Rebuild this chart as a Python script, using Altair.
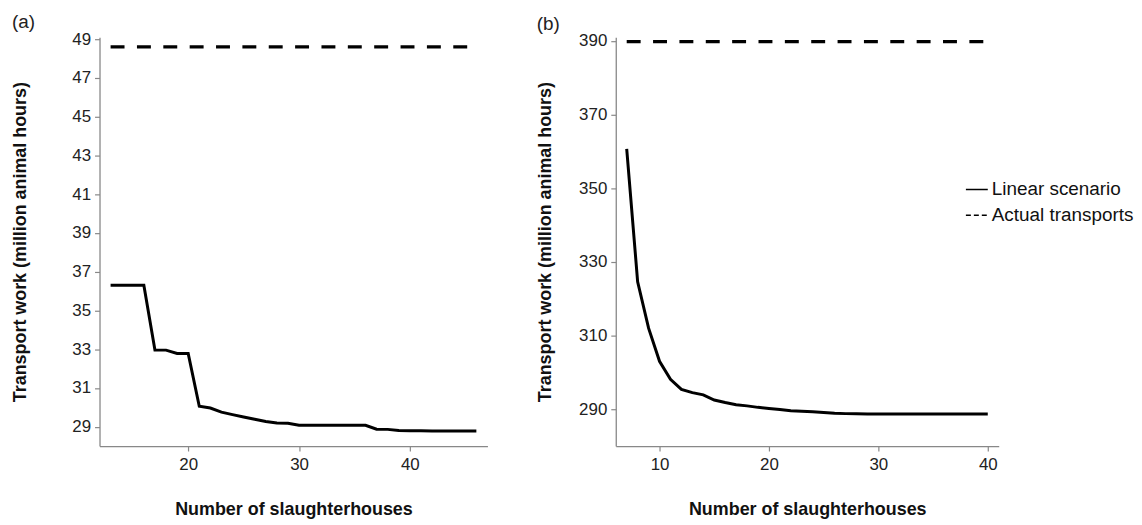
import altair as alt
import pandas as pd

# ---- data -------------------------------------------------------------
a_x = [13, 14, 15, 16, 17, 18, 19, 20, 21, 22, 23, 24, 25, 26, 27, 28, 29,
       30, 31, 32, 33, 34, 35, 36, 37, 38, 39, 40, 41, 42, 43, 44, 45, 46]
a_linear = [36.3, 36.3, 36.3, 36.3, 32.95, 32.95, 32.78, 32.78, 30.05, 29.96,
            29.75, 29.62, 29.5, 29.38, 29.27, 29.19, 29.18, 29.07, 29.07, 29.07,
            29.07, 29.07, 29.07, 29.07, 28.87, 28.86, 28.8, 28.79, 28.79, 28.78,
            28.77, 28.77, 28.77, 28.77]
a_actual = 48.6

b_x = [7, 8, 9, 10, 11, 12, 13, 14, 15, 16, 17, 18, 19, 20, 21, 22, 23, 24,
       25, 26, 27, 28, 29, 30, 31, 32, 33, 34, 35, 36, 37, 38, 39, 40]
b_linear = [360.7, 324.6, 312.0, 303.0, 298.1, 295.4, 294.5, 293.9, 292.5,
            291.8, 291.2, 290.9, 290.5, 290.2, 289.9, 289.6, 289.45, 289.3,
            289.1, 288.9, 288.8, 288.75, 288.7, 288.7, 288.7, 288.7, 288.7,
            288.7, 288.7, 288.7, 288.7, 288.7, 288.7, 288.7]
b_actual = 389.8

series_names = ["Linear scenario", "Actual transports"]
panel_titles = ["(a)", "(b)"]
x_title = "Number of slaughterhouses"
y_title = "Transport work (million animal hours)"

a_yticks = [29, 31, 33, 35, 37, 39, 41, 43, 45, 47, 49]
a_xticks = [20, 30, 40]
b_yticks = [290, 310, 330, 350, 370, 390]
b_xticks = [10, 20, 30, 40]

# ---- tables -----------------------------------------------------------
df_a = pd.DataFrame({"x": a_x, "y": a_linear})
df_a_act = pd.DataFrame({"x": [a_x[0], a_x[-1]], "y": [a_actual, a_actual]})
df_b = pd.DataFrame({"x": b_x, "y": b_linear})
df_b_act = pd.DataFrame({"x": [b_x[0], b_x[-1]], "y": [b_actual, b_actual]})
df_leg = pd.DataFrame({"x": [b_x[0], b_x[0]], "y": [b_linear[0]] * 2,
                       "series": series_names})

FONT = "Liberation Sans"


def panel(df_line, df_act, xdom, ydom, xticks, yticks, w, h, ttl, ytp):
    xs = alt.X("x:Q", scale=alt.Scale(domain=xdom, nice=False, zero=False),
               axis=alt.Axis(values=xticks, title=x_title, titlePadding=28,
                             labelPadding=6))
    ys = alt.Y("y:Q", scale=alt.Scale(domain=ydom, nice=False, zero=False),
               axis=alt.Axis(values=yticks, title=y_title, titlePadding=ytp,
                             labelPadding=4))
    line = alt.Chart(df_line).mark_line(color="black", strokeWidth=3).encode(
        x=xs, y=ys)
    act = alt.Chart(df_act).mark_line(color="black", strokeWidth=3.2,
                                      strokeDash=[14, 12.5]).encode(x=xs, y=ys)
    return (act + line).properties(
        width=w, height=h,
        title=alt.TitleParams(ttl, anchor="start", frame="bounds", offset=-2,
                              fontSize=19, fontWeight="normal", font=FONT,
                              color="#222"))


pa = panel(df_a, df_a_act, [12, 47], [28, 49.1], a_xticks, a_yticks,
           390, 411, panel_titles[0], 42)

pb_base = panel(df_b, df_b_act, [6, 41], [280, 391], b_xticks, b_yticks,
                385, 411, panel_titles[1], 24)

legend_layer = alt.Chart(df_leg).transform_filter("false").mark_line(
    color="black", strokeWidth=1.5).encode(
    x="x:Q", y="y:Q",
    strokeDash=alt.StrokeDash(
        "series:N",
        scale=alt.Scale(domain=series_names, range=[[1, 0], [5, 3]]),
        legend=alt.Legend(title=None, orient="none", legendX=870, legendY=141,
                          symbolType="stroke", symbolSize=484,
                          symbolStrokeWidth=1.5, symbolStrokeColor="black",
                          labelFontSize=19, labelFont=FONT, labelColor="#111",
                          labelOffset=3, rowPadding=4)))

pb = alt.layer(*pb_base.layer, legend_layer).properties(
    width=385, height=411, title=pb_base.title)

chart = alt.hconcat(pa, pb, spacing=49).properties(
    padding={"left": 4, "top": 3, "right": 0, "bottom": 0}
).configure_view(strokeWidth=0).configure_axis(
    grid=False, domainColor="#888", domainWidth=1.3, tickColor="#888",
    tickSize=5, tickWidth=1.2, labelFont=FONT, labelFontSize=17,
    labelColor="#222", titleFont=FONT, titleFontSize=18, titleFontWeight="bold",
    titleColor="#111"
)

chart.save("out.html", embed_options={"renderer": "svg", "actions": False})
